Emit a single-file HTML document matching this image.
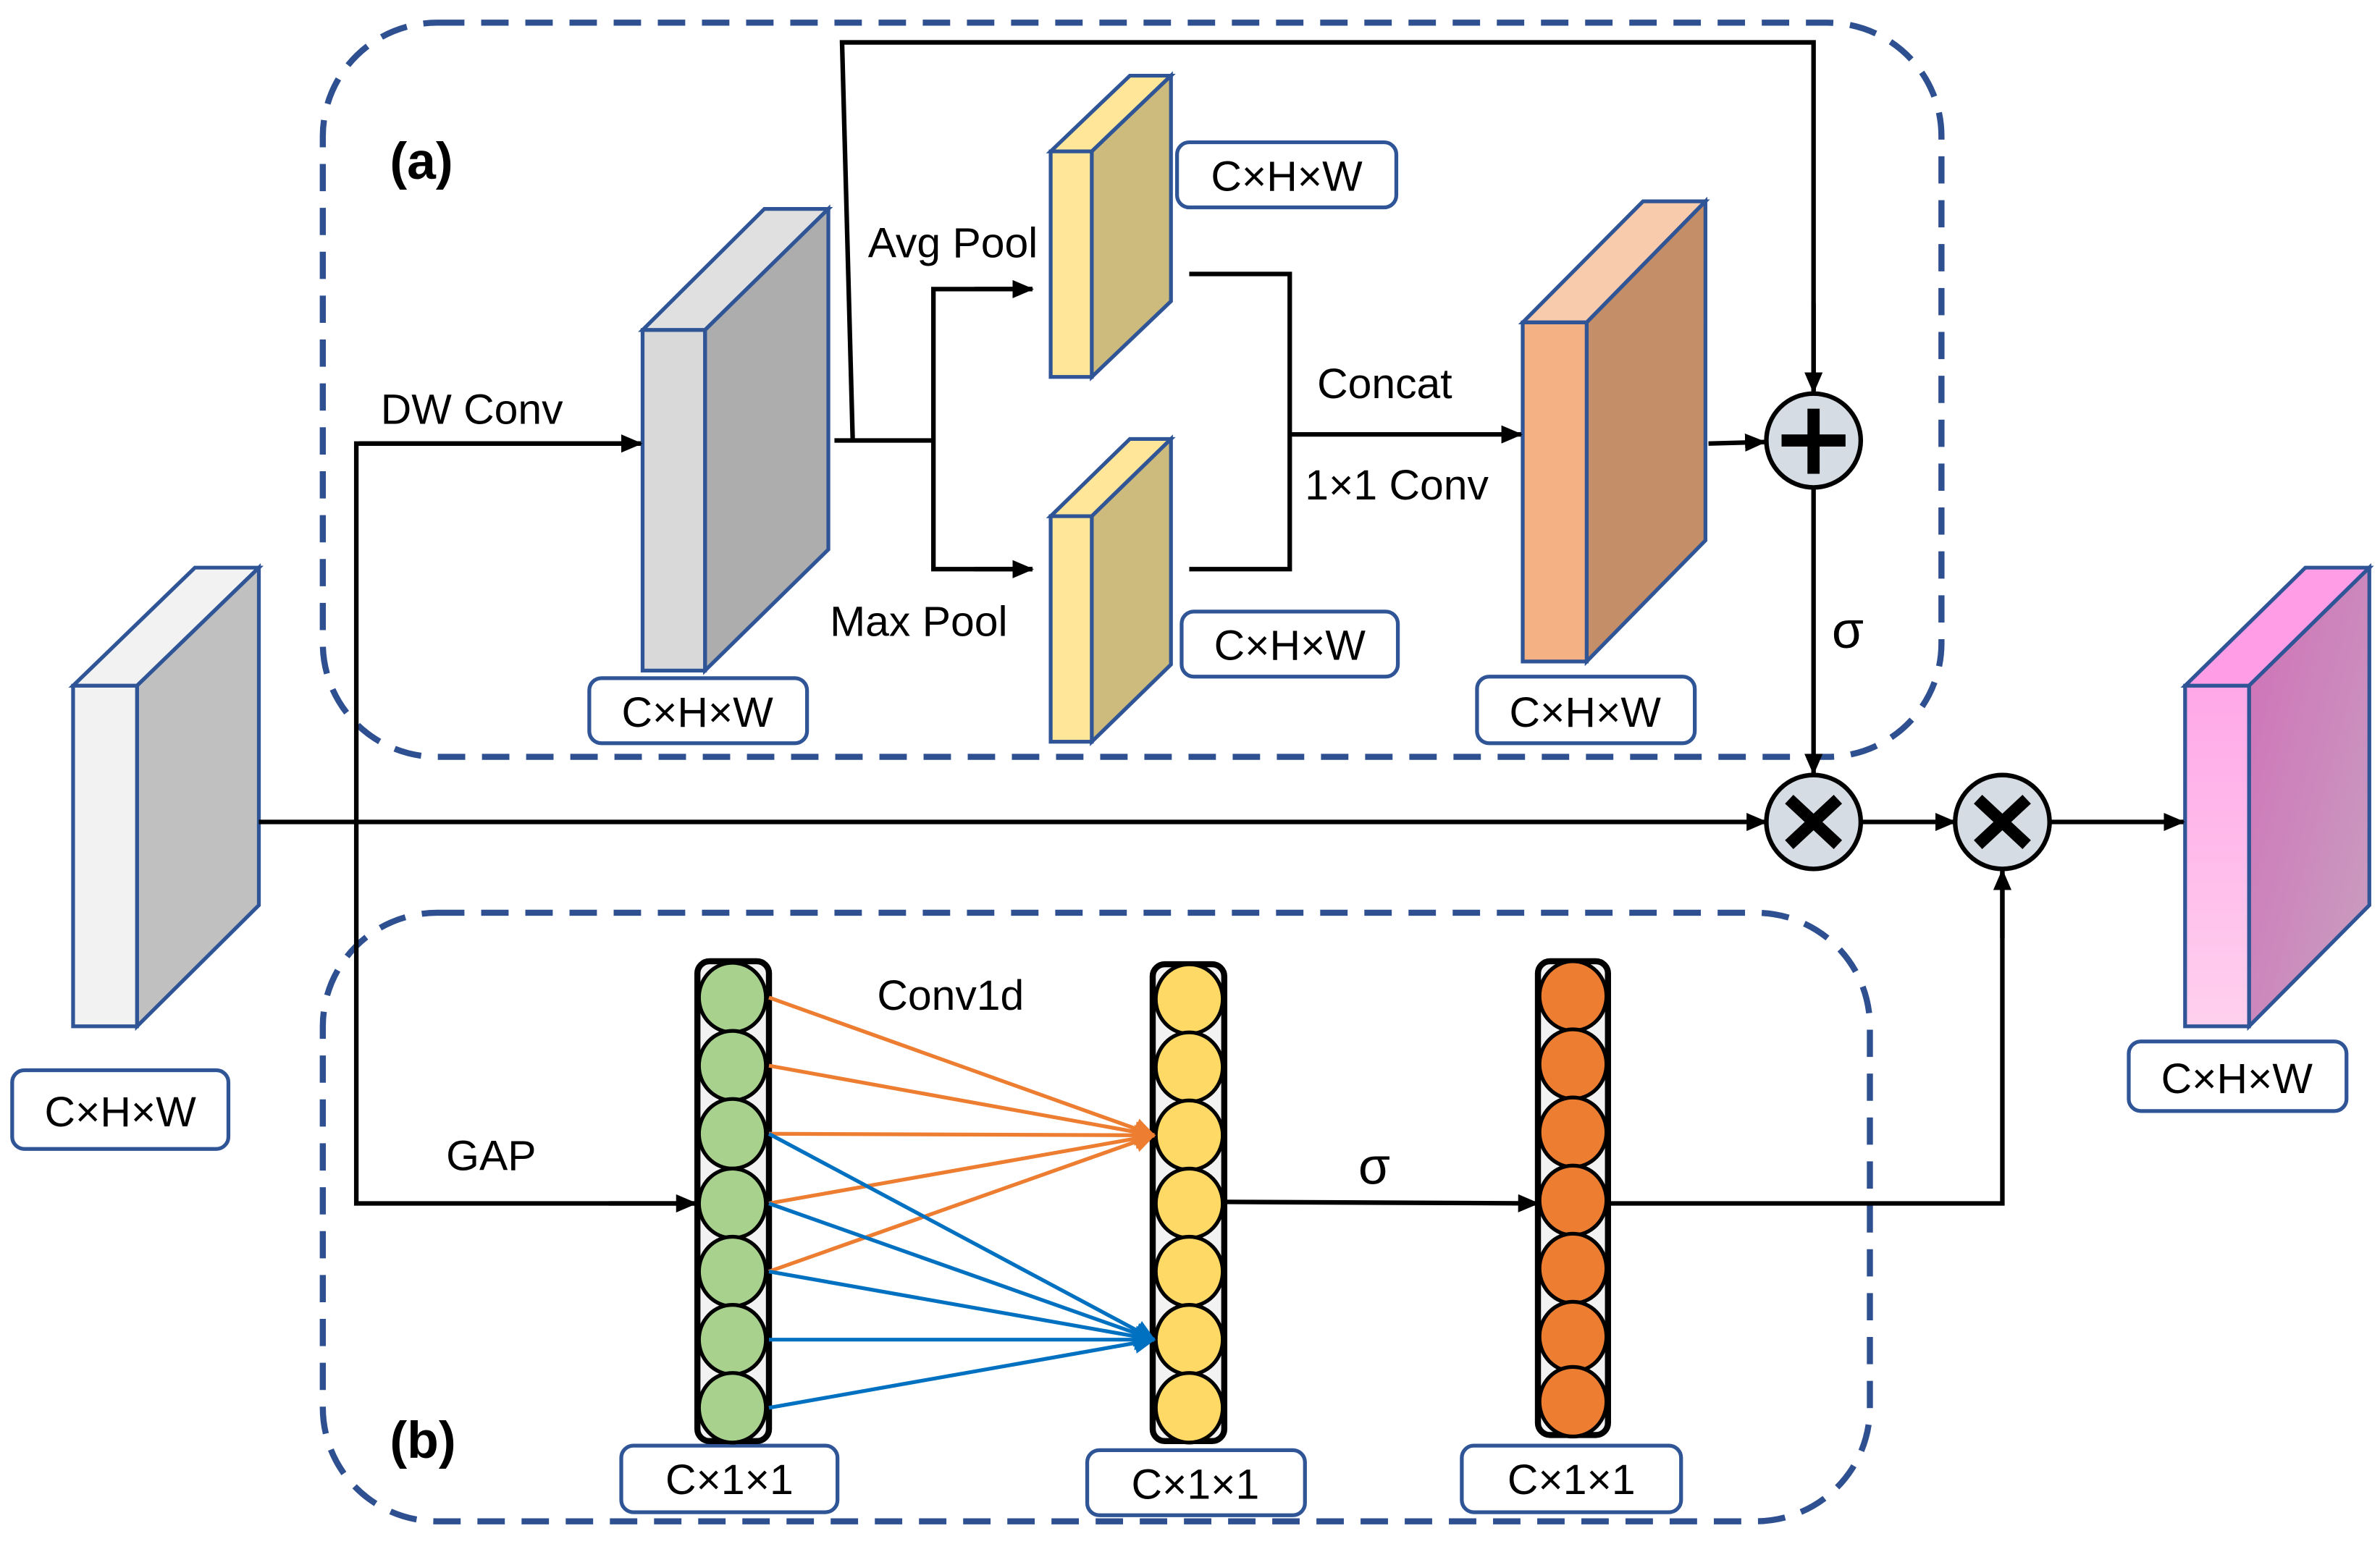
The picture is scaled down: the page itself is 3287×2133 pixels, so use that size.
<!DOCTYPE html>
<html><head><meta charset="utf-8"><style>
html,body{margin:0;padding:0;background:#fff;}
svg{display:block;}
text{font-family:"Liberation Sans",sans-serif;fill:#000;}
</style></head><body>
<svg width="3287" height="2133" viewBox="0 0 1563 1020" preserveAspectRatio="none" xmlns="http://www.w3.org/2000/svg">
<defs>
<marker id="ak" markerWidth="8" markerHeight="8" refX="7" refY="4" orient="auto" markerUnits="userSpaceOnUse"><path d="M0,0 L8,4 L0,8 z" fill="#000"/></marker>
<marker id="akl" markerWidth="14" markerHeight="12" refX="13" refY="6" orient="auto" markerUnits="userSpaceOnUse"><path d="M0,0 L14,6 L0,12 z" fill="#000"/></marker>
<marker id="ao" markerWidth="14" markerHeight="14" refX="13" refY="7" orient="auto" markerUnits="userSpaceOnUse"><path d="M0,0 L14,7 L0,14 z" fill="#ed7d31"/></marker>
<marker id="ab" markerWidth="14" markerHeight="14" refX="13" refY="7" orient="auto" markerUnits="userSpaceOnUse"><path d="M0,0 L14,7 L0,14 z" fill="#0070c0"/></marker>
<linearGradient id="pf" x1="0" y1="0" x2="0" y2="1"><stop offset="0" stop-color="#ffa8e8"/><stop offset="1" stop-color="#ffd0ee"/></linearGradient>
<linearGradient id="ps" x1="0" y1="0" x2="1" y2="1"><stop offset="0" stop-color="#d070b8"/><stop offset="1" stop-color="#c8a0c0"/></linearGradient>
</defs>

<!-- dashed boxes -->
<rect x="212" y="15" width="1063" height="485" rx="75" fill="none" stroke="#2f5090" stroke-width="4" stroke-dasharray="18,11"/>
<rect x="212" y="603" width="1016" height="402" rx="75" fill="none" stroke="#2f5090" stroke-width="4" stroke-dasharray="18,11"/>

<text x="256" y="118" font-size="34" font-weight="bold">(a)</text>
<text x="256" y="963" font-size="34" font-weight="bold">(b)</text>

<!-- blocks -->
<g stroke="#2f5597" stroke-width="2.5" stroke-linejoin="miter">
<!-- input -->
<polygon points="48,453 128,375 170,375 90,453" fill="#f2f2f2"/>
<polygon points="90,453 170,375 170,598 90,678" fill="#c0c0c0"/>
<rect x="48" y="453" width="42" height="225" fill="#f2f2f2"/>
<!-- DW -->
<polygon points="422,218 502,138 544,138 463,218" fill="#e0e0e0"/>
<polygon points="463,218 544,138 544,363 463,443" fill="#adadad"/>
<rect x="422" y="218" width="41" height="225" fill="#d9d9d9"/>
<!-- avg -->
<polygon points="690,100 742,50 769,50 717,100" fill="#ffe699"/>
<polygon points="717,100 769,50 769,199 717,249" fill="#cdbb7d"/>
<rect x="690" y="100" width="27" height="149" fill="#ffe699"/>
<!-- max -->
<polygon points="690,341 742,290 769,290 717,341" fill="#ffe699"/>
<polygon points="717,341 769,290 769,439 717,490" fill="#cdbb7d"/>
<rect x="690" y="341" width="27" height="149" fill="#ffe699"/>
<!-- orange -->
<polygon points="1000,213 1079,133 1120,133 1042,213" fill="#f8cbad"/>
<polygon points="1042,213 1120,133 1120,357 1042,437" fill="#c48e68"/>
<rect x="1000" y="213" width="42" height="224" fill="#f4b183"/>
<!-- output -->
<polygon points="1435,453 1514,375 1556,375 1477,453" fill="#ff9ee6"/>
<polygon points="1477,453 1556,375 1556,598 1477,678" fill="url(#ps)"/>
<rect x="1435" y="453" width="42" height="225" fill="url(#pf)"/>
</g>

<!-- label boxes -->
<g fill="#fff" stroke="#2f5597" stroke-width="2.5">
<rect x="8" y="707" width="142" height="52" rx="8"/>
<rect x="387" y="448" width="143" height="43" rx="8"/>
<rect x="773" y="94" width="144" height="43" rx="8"/>
<rect x="776" y="404" width="142" height="43" rx="8"/>
<rect x="970" y="447" width="143" height="44" rx="8"/>
<rect x="1398" y="688" width="143" height="46" rx="8"/>
<rect x="408" y="955" width="142" height="44" rx="8"/>
<rect x="714" y="958" width="143" height="43" rx="8"/>
<rect x="960" y="955" width="144" height="44" rx="8"/>
</g>
<g font-size="28" text-anchor="middle">
<text x="79" y="744">C×H×W</text>
<text x="458" y="480">C×H×W</text>
<text x="845" y="126">C×H×W</text>
<text x="847" y="436">C×H×W</text>
<text x="1041" y="480">C×H×W</text>
<text x="1469" y="722">C×H×W</text>
<text x="479" y="987">C×1×1</text>
<text x="785" y="990">C×1×1</text>
<text x="1032" y="987">C×1×1</text>
</g>

<!-- connectors -->
<g stroke="#000" stroke-width="3" fill="none">
<line x1="170" y1="543" x2="1160" y2="543" marker-end="url(#akl)"/>
<line x1="1222" y1="543" x2="1284" y2="543" marker-end="url(#akl)"/>
<line x1="1346" y1="543" x2="1434" y2="543" marker-end="url(#akl)"/>
<polyline points="420,293 234,293 234,795 457,795" />
<line x1="236" y1="293" x2="421" y2="293" marker-end="url(#akl)"/>
<line x1="400" y1="795" x2="457" y2="795" marker-end="url(#akl)"/>
<line x1="548" y1="291" x2="613" y2="291"/>
<polyline points="678,191 613,191 613,376 678,376"/>
<line x1="640" y1="191" x2="678" y2="191" marker-end="url(#akl)"/>
<line x1="640" y1="376" x2="678" y2="376" marker-end="url(#akl)"/>
<polyline points="560,291 553,28 1191,28 1191,258"/>
<line x1="1191" y1="200" x2="1191" y2="259" marker-end="url(#akl)"/>
<polyline points="781,181 847,181 847,376 781,376"/>
<line x1="847" y1="287" x2="999" y2="287" marker-end="url(#akl)"/>
<line x1="1122" y1="293" x2="1159" y2="292" marker-end="url(#akl)"/>
<line x1="1191" y1="322" x2="1191" y2="511" marker-end="url(#akl)"/>
<line x1="804" y1="794" x2="1010" y2="795" marker-end="url(#akl)"/>
<polyline points="1056,795 1315,795 1315,576"/>
<line x1="1315" y1="620" x2="1315" y2="575" marker-end="url(#akl)"/>
</g>

<!-- operator circles -->
<g stroke="#000" stroke-width="3" fill="#d6dce4">
<ellipse cx="1191" cy="291" rx="31" ry="31"/>
<ellipse cx="1191" cy="543" rx="31" ry="31"/>
<ellipse cx="1315" cy="543" rx="31" ry="31"/>
</g>
<rect x="1170" y="287" width="42" height="8" fill="#000"/>
<rect x="1187" y="270" width="8" height="43" fill="#000"/>
<g stroke="#000" stroke-width="8" stroke-linecap="butt">
<line x1="1175" y1="528" x2="1207" y2="558"/><line x1="1207" y1="528" x2="1175" y2="558"/>
<line x1="1299" y1="528" x2="1331" y2="558"/><line x1="1331" y1="528" x2="1299" y2="558"/>
</g>

<!-- channel columns -->
<g stroke="#000" stroke-width="4" fill="#f2f2f2">
<rect x="458" y="635" width="47" height="317" rx="8"/>
<rect x="757" y="637" width="47" height="315" rx="8"/>
<rect x="1010" y="635" width="46" height="313" rx="8"/>
</g>
<g stroke="#000" stroke-width="2.5">
<g fill="#a9d18e">
<ellipse cx="481" cy="659" rx="22" ry="23"/><ellipse cx="481" cy="704" rx="22" ry="23"/><ellipse cx="481" cy="749" rx="22" ry="23"/><ellipse cx="481" cy="795" rx="22" ry="23"/><ellipse cx="481" cy="840" rx="22" ry="23"/><ellipse cx="481" cy="885" rx="22" ry="23"/><ellipse cx="481" cy="930" rx="22" ry="23"/>
</g>
<g fill="#ffd966">
<ellipse cx="781" cy="660" rx="22" ry="23"/><ellipse cx="781" cy="705" rx="22" ry="23"/><ellipse cx="781" cy="750" rx="22" ry="23"/><ellipse cx="781" cy="795" rx="22" ry="23"/><ellipse cx="781" cy="840" rx="22" ry="23"/><ellipse cx="781" cy="885" rx="22" ry="23"/><ellipse cx="781" cy="930" rx="22" ry="23"/>
</g>
<g fill="#ed7d31">
<ellipse cx="1033" cy="658" rx="22" ry="23"/><ellipse cx="1033" cy="703" rx="22" ry="23"/><ellipse cx="1033" cy="748" rx="22" ry="23"/><ellipse cx="1033" cy="793" rx="22" ry="23"/><ellipse cx="1033" cy="838" rx="22" ry="23"/><ellipse cx="1033" cy="883" rx="22" ry="23"/><ellipse cx="1033" cy="926" rx="22" ry="23"/>
</g>
</g>

<!-- conv1d lines -->
<g stroke="#ed7d31" stroke-width="2.5">
<line x1="505" y1="659" x2="758" y2="750" marker-end="url(#ao)"/>
<line x1="505" y1="704" x2="758" y2="750" marker-end="url(#ao)"/>
<line x1="505" y1="749" x2="758" y2="750" marker-end="url(#ao)"/>
<line x1="505" y1="795" x2="758" y2="750" marker-end="url(#ao)"/>
<line x1="505" y1="840" x2="758" y2="750" marker-end="url(#ao)"/>
</g>
<g stroke="#0070c0" stroke-width="2.5">
<line x1="505" y1="749" x2="758" y2="885" marker-end="url(#ab)"/>
<line x1="505" y1="795" x2="758" y2="885" marker-end="url(#ab)"/>
<line x1="505" y1="840" x2="758" y2="885" marker-end="url(#ab)"/>
<line x1="505" y1="885" x2="758" y2="885" marker-end="url(#ab)"/>
<line x1="505" y1="930" x2="758" y2="885" marker-end="url(#ab)"/>
</g>

<!-- labels -->
<g font-size="28">
<text x="250" y="280">DW Conv</text>
<text x="570" y="170">Avg Pool</text>
<text x="545" y="420">Max Pool</text>
<text x="865" y="263">Concat</text>
<text x="857" y="330">1×1 Conv</text>
<text x="293" y="773">GAP</text>
<text x="576" y="667">Conv1d</text>
</g>
<text x="1203" y="428" font-size="34" font-family="Liberation Serif">σ</text>
<text x="892" y="782" font-size="34" font-family="Liberation Serif">σ</text>
</svg>
</body></html>
